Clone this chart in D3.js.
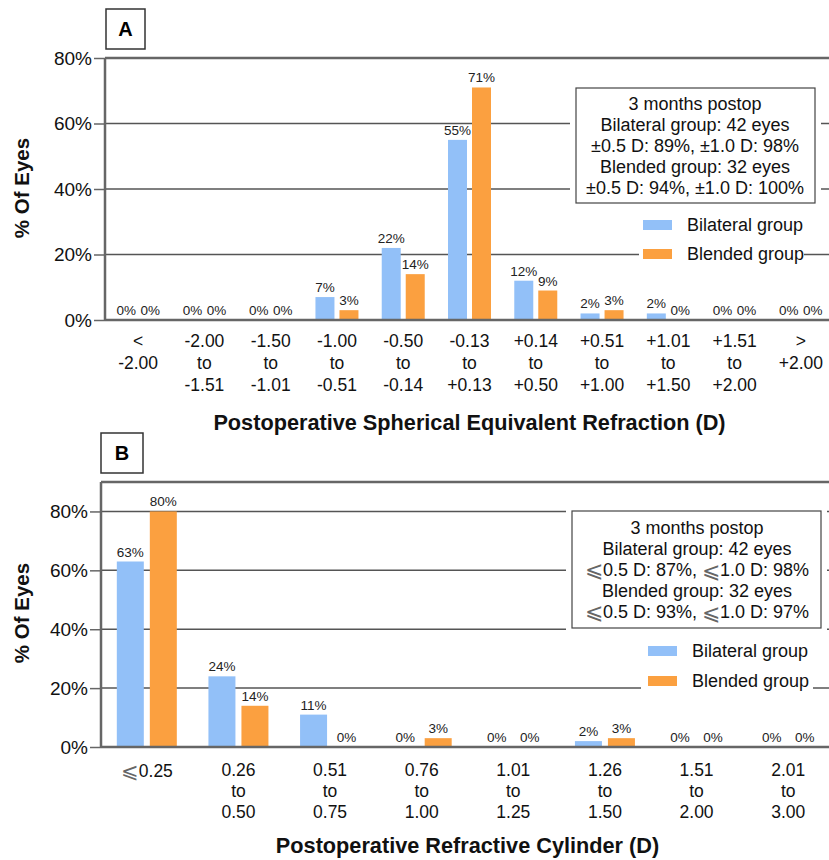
<!DOCTYPE html>
<html>
<head>
<meta charset="utf-8">
<script src="https://cdn.jsdelivr.net/npm/d3@7"></script>
<style>
  body { margin: 0; background: #fff; }
  svg { display: block; font-family: "Liberation Sans", Arial, sans-serif; }
</style>
</head>
<body>
<div id="chart"></div>
<script>
// panel A data
var catsA = [["<", "-2.00"], ["-2.00", "to", "-1.51"], ["-1.50", "to", "-1.01"], ["-1.00", "to", "-0.51"],
             ["-0.50", "to", "-0.14"], ["-0.13", "to", "+0.13"], ["+0.14", "to", "+0.50"], ["+0.51", "to", "+1.00"],
             ["+1.01", "to", "+1.50"], ["+1.51", "to", "+2.00"], [">", "+2.00"]]
var bilateralA = [0, 0, 0, 7, 22, 55, 12, 2, 2, 0, 0]
var blendedA = [0, 0, 0, 3, 14, 71, 9, 3, 0, 0, 0]
var yTicksA = [0, 20, 40, 60, 80]
var noteA = ["3 months postop", "Bilateral group: 42 eyes", "±0.5 D: 89%, ±1.0 D: 98%",
             "Blended group: 32 eyes", "±0.5 D: 94%, ±1.0 D: 100%"]

// panel B data
var catsB = [["⩽0.25"], ["0.26", "to", "0.50"], ["0.51", "to", "0.75"], ["0.76", "to", "1.00"],
             ["1.01", "to", "1.25"], ["1.26", "to", "1.50"], ["1.51", "to", "2.00"], ["2.01", "to", "3.00"]]
var bilateralB = [63, 24, 11, 0, 0, 2, 0, 0]
var blendedB = [80, 14, 0, 3, 0, 3, 0, 0]
var yTicksB = [0, 20, 40, 60, 80]
var noteB = ["3 months postop", "Bilateral group: 42 eyes", "⩽0.5 D: 87%, ⩽1.0 D: 98%",
             "Blended group: 32 eyes", "⩽0.5 D: 93%, ⩽1.0 D: 97%"]

var seriesNames = ["Bilateral group", "Blended group"]
var colors = {"Bilateral group": "#92c0f8", "Blended group": "#fba040"}

var svg = d3.select("#chart").append("svg")
            .attr("width", 829)
            .attr("height", 860)

drawPanel({
  tag: "A", cats: catsA, vals: [bilateralA, blendedA], ticks: yTicksA, note: noteA,
  left: 105, right: 834, top: 58, bottom: 320, ymax: 80,
  tagBox: [106, 9, 39, 40], yTitle: [22, 188],
  barW: 19, gap: 5,
  noteBox: [576, 88, 239, 115], noteLines: [104, 21], noteX: 695,
  legX: 643, legY: [225, 254], legMask: [639, 804],
  labelY: 341, labelStep: 22, title: "Postoperative Spherical Equivalent Refraction (D)", titleY: 422
})

drawPanel({
  tag: "B", cats: catsB, vals: [bilateralB, blendedB], ticks: yTicksB, note: noteB,
  left: 101, right: 834, top: 482, bottom: 747, ymax: 90,
  tagBox: [101, 433, 42, 40], yTitle: [22, 613],
  barW: 27, gap: 6,
  noteBox: [572, 511, 249, 117], noteLines: [528, 21], noteX: 697,
  legX: 648, legY: [651, 681], legMask: [641, 813],
  labelY: 770, labelStep: 21, title: "Postoperative Refractive Cylinder (D)", titleY: 845
})

// the slanted "less or equal" sign is drawn a bit larger and thinner, like the original
function writeText(sel, str) {
  str.split(/(⩽)/).filter(s => s.length).forEach(function(part) {
    var t = sel.append("tspan").text(part)
    if (part == "⩽") t.attr("font-size", "1.2em").attr("dy", "0.06em").attr("fill", "#666")
    else if (str.indexOf("⩽") >= 0) t.attr("dy", "-0.06em")
  })
}

function drawPanel(p) {
  var g = svg.append("g").attr("id", "panel" + p.tag)

  var y = d3.scaleLinear().domain([0, p.ymax]).range([p.bottom, p.top])
  var x0 = d3.scaleBand().domain(d3.range(p.cats.length)).range([p.left, p.right])
  var half = p.barW + p.gap / 2
  var x1 = d3.scaleBand().domain(seriesNames).range([-half, half])
             .paddingInner(p.gap / (p.barW + p.gap))
  var cx = i => x0(i) + x0.bandwidth() / 2

  // gridlines
  g.append("g").selectAll("line")
    .data(p.ticks.filter(t => t > 0 && y(t) > p.top + 1))
    .enter().append("line")
      .attr("x1", p.left).attr("x2", 829)
      .attr("y1", d => y(d)).attr("y2", d => y(d))
      .attr("stroke", "#555").attr("stroke-width", 1.5)

  // white area behind the note box and the legend
  var nb = p.noteBox
  g.append("rect").attr("x", nb[0] - 6).attr("y", nb[1] - 5).attr("width", nb[2] + 12).attr("height", nb[3] + 10)
    .attr("fill", "#fff")
  g.append("rect").attr("x", p.legMask[0]).attr("y", p.legY[0] - 14)
    .attr("width", p.legMask[1] - p.legMask[0]).attr("height", p.legY[1] - p.legY[0] + 28)
    .attr("fill", "#fff")

  // bars
  seriesNames.forEach(function(s, si) {
    var vals = p.vals[si]
    g.append("g").selectAll("rect").data(vals)
      .enter().append("rect")
        .attr("x", (d, i) => cx(i) + x1(s))
        .attr("width", x1.bandwidth())
        .attr("y", d => y(d))
        .attr("height", d => p.bottom - y(d))
        .attr("fill", colors[s])
    g.append("g").selectAll("text").data(vals)
      .enter().append("text")
        .attr("x", (d, i) => cx(i) + x1(s) + x1.bandwidth() / 2)
        .attr("y", d => y(d) - 5)
        .attr("text-anchor", "middle")
        .attr("font-size", 13.5)
        .attr("fill", "#222")
        .text(d => d + "%")
  })

  // frame: top line, left axis, baseline
  g.append("line").attr("x1", p.left).attr("x2", 829).attr("y1", p.top).attr("y2", p.top)
    .attr("stroke", "#666").attr("stroke-width", 2.5)
  g.append("line").attr("x1", p.left).attr("x2", 829).attr("y1", p.bottom).attr("y2", p.bottom)
    .attr("stroke", "#666").attr("stroke-width", 2.5)

  var yAxis = g.append("g")
    .attr("transform", "translate(" + p.left + ",0)")
    .call(d3.axisLeft(y).tickValues(p.ticks).tickSize(11).tickPadding(2).tickFormat(d => d + "%"))
  yAxis.select(".domain").attr("d", "M0," + p.top + "V" + p.bottom)
    .attr("stroke", "#666").attr("stroke-width", 2.5)
  yAxis.selectAll(".tick line").attr("stroke", "#666").attr("stroke-width", 1.5)
  yAxis.selectAll(".tick text").attr("font-size", 19).attr("fill", "#111")
    .attr("font-family", "Liberation Sans, Arial, sans-serif")

  // y title
  g.append("text")
    .attr("transform", "translate(" + p.yTitle[0] + "," + p.yTitle[1] + ") rotate(-90)")
    .attr("text-anchor", "middle").attr("dy", "0.35em")
    .attr("font-size", 20.5).attr("font-weight", "bold").attr("fill", "#111")
    .text("% Of Eyes")

  // x category labels
  var lab = g.append("g").selectAll("text").data(p.cats)
    .enter().append("text")
      .attr("text-anchor", "middle")
      .attr("font-size", 17.5).attr("fill", "#111")
      .attr("y", d => d.length == 1 ? p.labelY + 7 : p.labelY)
  lab.selectAll("tspan").data((d, i) => d.map(t => ({t: t, i: i})))
    .enter().append("tspan")
      .attr("x", d => cx(d.i))
      .attr("dy", (d, j) => j == 0 ? "0.35em" : p.labelStep)
      .each(function(d) { writeText(d3.select(this), d.t) })

  g.append("text").attr("x", (p.left + p.right) / 2).attr("y", p.titleY).attr("dy", "0.35em")
    .attr("text-anchor", "middle").attr("font-size", 21.7).attr("font-weight", "bold").attr("fill", "#111")
    .text(p.title)

  // panel tag
  var tb = p.tagBox
  g.append("rect").attr("x", tb[0]).attr("y", tb[1]).attr("width", tb[2]).attr("height", tb[3])
    .attr("fill", "#fff").attr("stroke", "#333").attr("stroke-width", 1.5)
  g.append("text").attr("x", tb[0] + tb[2] / 2).attr("y", tb[1] + tb[3] / 2).attr("dy", "0.35em")
    .attr("text-anchor", "middle").attr("font-size", 20).attr("font-weight", "bold").text(p.tag)

  // note box
  g.append("rect").attr("x", nb[0]).attr("y", nb[1]).attr("width", nb[2]).attr("height", nb[3])
    .attr("fill", "#fff").attr("stroke", "#444").attr("stroke-width", 1.2)
  g.append("g").selectAll("text").data(p.note)
    .enter().append("text")
      .attr("x", p.noteX)
      .attr("y", (d, i) => p.noteLines[0] + i * p.noteLines[1] + 6)
      .attr("text-anchor", "middle").attr("font-size", 18).attr("fill", "#111")
      .each(function(d) { writeText(d3.select(this), d) })

  // legend
  var leg = g.append("g").selectAll("g").data(seriesNames)
    .enter().append("g")
  leg.append("rect").attr("x", p.legX).attr("y", (d, i) => p.legY[i] - 5)
    .attr("width", 29).attr("height", 10).attr("fill", d => colors[d])
  leg.append("text").attr("x", p.legX + 44).attr("y", (d, i) => p.legY[i]).attr("dy", "0.35em")
    .attr("font-size", 18).attr("fill", "#111").text(d => d)
}
</script>
</body>
</html>
